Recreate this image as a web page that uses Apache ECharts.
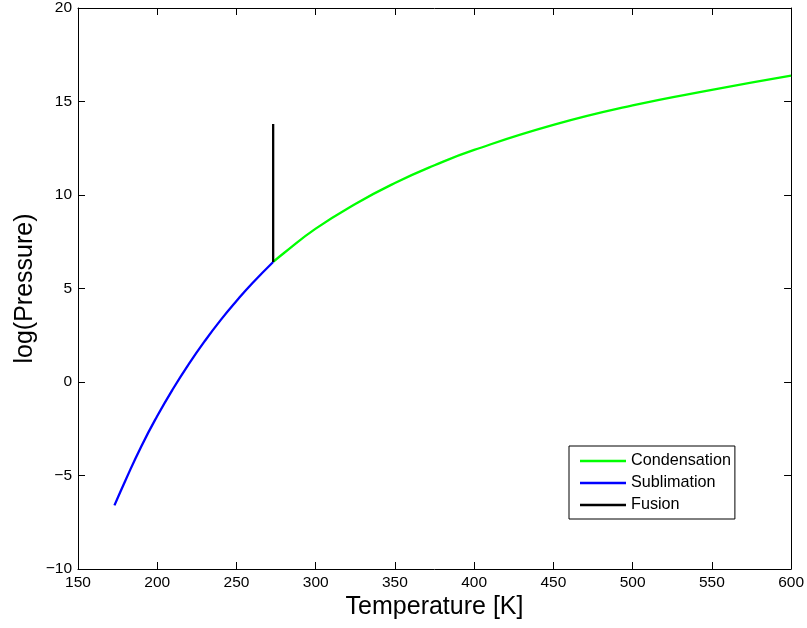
<!DOCTYPE html>
<html>
<head>
<meta charset="utf-8">
<script src="https://cdn.jsdelivr.net/npm/echarts@6/dist/echarts.min.js"></script>
<style>
  html, body { margin: 0; padding: 0; background: #fff; }
  #chart { width: 807px; height: 628px; }
</style>
</head>
<body>
<div id="chart"></div>
<script>
// Phase boundaries of water: temperature [K] vs natural log of pressure [Pa]
const condensationT = [273.16, 280, 300, 325, 350, 375, 400, 450, 500, 550, 600];
const condensationLogP = [6.42, 6.9, 8.2, 9.52, 10.64, 11.59, 12.41, 13.75, 14.79, 15.62, 16.38];

const sublimationT = [173, 180, 190, 200, 210, 220, 230, 240, 250, 260, 273.16];
const sublimationLogP = [-6.6, -5.25, -3.43, -1.82, -0.36, 0.97, 2.19, 3.31, 4.33, 5.28, 6.42];

const fusionT = [273.16, 273.16];
const fusionLogP = [6.42, 13.8];

const xTicks = [150, 200, 250, 300, 350, 400, 450, 500, 550, 600];
const yTicks = [-10, -5, 0, 5, 10, 15, 20];

const pairs = (xs, ys) => xs.map((x, i) => [x, ys[i]]);
const fmt = v => (v < 0 ? '\u2212' + Math.abs(v) : String(v));

const FONT = 'Liberation Sans, Arial, Helvetica, sans-serif';

const tickStyle = { show: true, inside: true, length: 7, lineStyle: { color: '#000', width: 1 } };
const lineStyleAxis = { show: true, onZero: false, lineStyle: { color: '#000', width: 1 } };

const chart = echarts.init(document.getElementById('chart'), null, { renderer: 'canvas' });

chart.setOption({
  backgroundColor: '#fff',
  animation: false,
  grid: { left: 78, right: 14, top: 6, bottom: 59, containLabel: false },
  xAxis: [
    {
      type: 'value', position: 'bottom',
      min: xTicks[0], max: xTicks[xTicks.length - 1], interval: 50,
      name: 'Temperature [K]', nameLocation: 'middle', nameGap: 26,
      nameMoveOverlap: false,
      nameTextStyle: { fontFamily: FONT, fontSize: 25, color: '#000' },
      axisLine: lineStyleAxis, axisTick: tickStyle,
      axisLabel: { color: '#000', fontFamily: FONT, fontSize: 15.5, margin: 6, formatter: fmt },
      splitLine: { show: false }
    },
    {
      type: 'value', position: 'top',
      min: xTicks[0], max: xTicks[xTicks.length - 1], interval: 50,
      axisLine: lineStyleAxis, axisTick: tickStyle,
      axisLabel: { show: false }, splitLine: { show: false }
    }
  ],
  yAxis: [
    {
      type: 'value', position: 'left',
      min: yTicks[0], max: yTicks[yTicks.length - 1], interval: 5,
      name: 'log(Pressure)', nameLocation: 'middle', nameGap: 40, nameRotate: 90,
      nameMoveOverlap: false,
      nameTextStyle: { fontFamily: FONT, fontSize: 25, color: '#000' },
      axisLine: lineStyleAxis, axisTick: tickStyle,
      axisLabel: { color: '#000', fontFamily: FONT, fontSize: 15.5, margin: 6, formatter: fmt },
      splitLine: { show: false }
    },
    {
      type: 'value', position: 'right',
      min: yTicks[0], max: yTicks[yTicks.length - 1], interval: 5,
      axisLine: lineStyleAxis, axisTick: tickStyle,
      axisLabel: { show: false }, splitLine: { show: false }
    }
  ],
  legend: {
    orient: 'vertical',
    left: 569, top: 446,
    padding: [4, 4, 3, 11],
    itemGap: 0,
    itemWidth: 46, itemHeight: 2.5,
    icon: 'rect',
    borderColor: '#000', borderWidth: 1,
    backgroundColor: '#fff',
    textStyle: { fontFamily: FONT, fontSize: 16.2, color: '#000', lineHeight: 22 },
    data: ['Condensation', 'Sublimation', 'Fusion']
  },
  series: [
    {
      name: 'Condensation', type: 'line', smooth: true, showSymbol: false,
      color: '#00ff00', lineStyle: { color: '#00ff00', width: 2.3 },
      data: pairs(condensationT, condensationLogP)
    },
    {
      name: 'Sublimation', type: 'line', smooth: true, showSymbol: false,
      color: '#0000ff', lineStyle: { color: '#0000ff', width: 2.3 },
      data: pairs(sublimationT, sublimationLogP)
    },
    {
      name: 'Fusion', type: 'line', showSymbol: false,
      color: '#000', lineStyle: { color: '#000', width: 2.3 },
      data: pairs(fusionT, fusionLogP)
    }
  ]
});
</script>
</body>
</html>
